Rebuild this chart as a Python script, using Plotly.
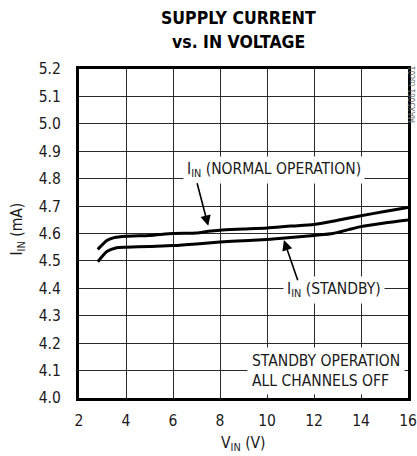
import plotly.graph_objects as go

# Data
normal_x = [2.8, 3.2, 3.5, 4.0, 5.0, 6.0, 7.0, 7.5, 8.0, 9.0, 10.0, 11.0, 12.0, 13.0, 14.0, 15.0, 16.0]
normal_y = [4.542, 4.575, 4.585, 4.590, 4.593, 4.600, 4.602, 4.608, 4.612, 4.616, 4.620, 4.627, 4.633, 4.648, 4.665, 4.680, 4.695]

standby_x = [2.8, 3.2, 3.6, 4.0, 5.0, 6.0, 7.0, 8.0, 9.0, 10.0, 11.0, 12.0, 12.8, 13.5, 14.0, 15.0, 16.0]
standby_y = [4.497, 4.535, 4.548, 4.550, 4.553, 4.556, 4.562, 4.569, 4.574, 4.578, 4.585, 4.593, 4.600, 4.615, 4.625, 4.638, 4.649]

x_range = [2, 16]
x_step = 2
y_range = [4.0, 5.2]
y_step = 0.1

FONT = "DejaVu Sans Condensed, DejaVu Sans, sans-serif"
TXT = "#1a1a1a"

fig = go.Figure()
fig.add_trace(go.Scatter(x=normal_x, y=normal_y, mode="lines",
                         line=dict(color="black", width=3, shape="spline", smoothing=0.6),
                         showlegend=False, hoverinfo="skip"))
fig.add_trace(go.Scatter(x=standby_x, y=standby_y, mode="lines",
                         line=dict(color="black", width=3, shape="spline", smoothing=0.6),
                         showlegend=False, hoverinfo="skip"))

fig.update_xaxes(range=x_range, tick0=x_range[0], dtick=x_step, tickformat="d",
                 showgrid=True, gridcolor="#2a2a2a", gridwidth=1, automargin=False,
                 showline=True, linecolor="black", linewidth=3, mirror=True,
                 zeroline=False, ticks="outside", ticklen=6, tickcolor="white",
                 tickfont=dict(family=FONT, size=15.5, color=TXT))
fig.update_yaxes(range=y_range, tick0=y_range[0], dtick=y_step, tickformat=".1f",
                 showgrid=True, gridcolor="#2a2a2a", gridwidth=1, automargin=False,
                 showline=True, linecolor="black", linewidth=3, mirror=True,
                 zeroline=False, ticks="outside", ticklen=12, tickcolor="white",
                 tickfont=dict(family=FONT, size=15.5, color=TXT))

annotations = [
    # Title
    dict(text="<b>SUPPLY CURRENT</b>", xref="paper", yref="paper", x=(238 - 79) / 329,
         y=(398 - 18) / 329, showarrow=False, xanchor="center", yanchor="middle",
         font=dict(family=FONT, size=17.5, color="black")),
    dict(text="<b>vs. IN VOLTAGE</b>", xref="paper", yref="paper", x=(238 - 79) / 329,
         y=(398 - 42) / 329, showarrow=False, xanchor="center", yanchor="middle",
         font=dict(family=FONT, size=17.5, color="black")),
    # Axis titles
    dict(text="I<sub>IN</sub> (mA)", xref="paper", yref="paper", x=(17.5 - 79) / 329,
         y=(398 - 229) / 329, textangle=-90, showarrow=False, xanchor="center", yanchor="middle",
         font=dict(family=FONT, size=15.5, color=TXT)),
    dict(text="V<sub>IN</sub> (V)", xref="paper", yref="paper", x=0.5,
         y=(398 - 444) / 329, showarrow=False, xanchor="center", yanchor="middle",
         font=dict(family=FONT, size=15.5, color=TXT)),
    # Curve labels
    dict(text="I<sub>IN</sub> (NORMAL OPERATION)", x=10.28, y=4.833, showarrow=False,
         xanchor="center", yanchor="middle", bgcolor="white", borderpad=3,
         font=dict(family=FONT, size=15.5, color=TXT)),
    dict(text="I<sub>IN</sub> (STANDBY)", x=12.85, y=4.395, showarrow=False,
         xanchor="center", yanchor="middle", bgcolor="white", borderpad=3,
         font=dict(family=FONT, size=15.5, color=TXT)),
    dict(text="STANDBY OPERATION<br>ALL CHANNELS OFF", x=9.14, y=4.097, showarrow=False,
         xanchor="left", yanchor="middle", align="left", bgcolor="white", borderpad=4,
         font=dict(family=FONT, size=15.5, color=TXT)),
    # Arrows
    dict(text="", x=7.50, y=4.628, ax=7.01, ay=4.789, axref="x", ayref="y",
         showarrow=True, arrowhead=2, arrowsize=1.3, arrowwidth=1.6, arrowcolor="black"),
    dict(text="", x=10.72, y=4.576, ax=11.33, ay=4.424, axref="x", ayref="y",
         showarrow=True, arrowhead=2, arrowsize=1.3, arrowwidth=1.6, arrowcolor="black"),
    # Figure id
    dict(text="MAX5061 toc01", xref="paper", yref="paper", x=(413 - 79) / 329,
         y=(398 - 95) / 329, textangle=-90, showarrow=False, xanchor="center", yanchor="middle",
         font=dict(family=FONT, size=8, color="#666")),
]

fig.update_layout(
    width=417, height=456,
    margin=dict(l=79, r=9, t=69, b=58, autoexpand=False),
    paper_bgcolor="white", plot_bgcolor="white",
    annotations=annotations,
    showlegend=False,
)

fig.write_html("out.html", config={"displayModeBar": False},
               post_script="document.body.style.margin='0';")
